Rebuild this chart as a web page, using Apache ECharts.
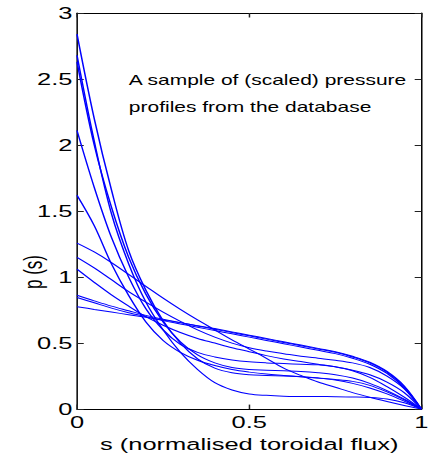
<!DOCTYPE html>
<html>
<head>
<meta charset="utf-8">
<script src="https://cdn.jsdelivr.net/npm/echarts@6/dist/echarts.min.js"></script>
<style>
  html, body { margin: 0; padding: 0; background: #fff; overflow: hidden; }
  /* the reference figure is stretched sideways, so draw narrow and widen */
  #chart { width: 289px; height: 458px; transform: scaleX(1.4983); transform-origin: 0 0; }
</style>
</head>
<body>
<div id="chart"></div>
<script>
// normalised toroidal flux
const S = [0, 0.05, 0.1, 0.15, 0.2, 0.25, 0.3, 0.35, 0.4, 0.45, 0.5, 0.55, 0.6, 0.65, 0.7, 0.75, 0.8, 0.85, 0.9, 0.95, 1];

// sampled pressure profiles p(s)
const pA = [2.84, 2.2, 1.66, 1.2, 0.9, 0.67, 0.5, 0.38, 0.31, 0.275, 0.26, 0.255, 0.25, 0.245, 0.235, 0.22, 0.195, 0.16, 0.115, 0.06, 0];
const pB = [2.68, 2.03, 1.48, 1.1, 0.81, 0.6, 0.43, 0.3, 0.2, 0.145, 0.115, 0.104, 0.098, 0.096, 0.095, 0.094, 0.092, 0.088, 0.076, 0.048, 0];
const pC = [2.63, 2.0, 1.53, 1.15, 0.87, 0.66, 0.51, 0.41, 0.35, 0.315, 0.3, 0.295, 0.29, 0.285, 0.275, 0.26, 0.235, 0.195, 0.14, 0.075, 0];
const pD = [2.11, 1.68, 1.3, 1.0, 0.76, 0.6, 0.49, 0.43, 0.395, 0.372, 0.358, 0.35, 0.345, 0.34, 0.335, 0.32, 0.29, 0.24, 0.17, 0.09, 0];
const pE = [1.62, 1.39, 1.1, 0.86, 0.66, 0.52, 0.43, 0.37, 0.33, 0.3, 0.28, 0.265, 0.255, 0.245, 0.235, 0.225, 0.21, 0.18, 0.13, 0.07, 0];
const pF = [1.257, 1.19, 1.11, 1.02, 0.93, 0.84, 0.755, 0.675, 0.6, 0.525, 0.455, 0.385, 0.31, 0.255, 0.205, 0.165, 0.125, 0.09, 0.058, 0.028, 0];
const pG = [1.15, 1.07, 0.98, 0.89, 0.81, 0.735, 0.665, 0.6, 0.545, 0.5, 0.465, 0.44, 0.42, 0.4, 0.385, 0.37, 0.35, 0.315, 0.25, 0.155, 0];
const pH = [1.06, 0.96, 0.865, 0.78, 0.7, 0.635, 0.58, 0.535, 0.5, 0.465, 0.435, 0.405, 0.38, 0.36, 0.34, 0.32, 0.295, 0.26, 0.205, 0.125, 0];
const pI = [0.862, 0.82, 0.78, 0.745, 0.71, 0.68, 0.655, 0.63, 0.605, 0.58, 0.555, 0.53, 0.505, 0.48, 0.455, 0.43, 0.395, 0.35, 0.28, 0.17, 0];
const pJ = [0.845, 0.805, 0.765, 0.73, 0.7, 0.67, 0.645, 0.62, 0.595, 0.57, 0.545, 0.52, 0.495, 0.47, 0.445, 0.42, 0.385, 0.34, 0.27, 0.16, 0];
const pK = [0.776, 0.755, 0.735, 0.715, 0.695, 0.675, 0.655, 0.632, 0.61, 0.585, 0.56, 0.535, 0.51, 0.485, 0.46, 0.435, 0.4, 0.355, 0.285, 0.175, 0];

const profiles = [pA, pB, pC, pD, pE, pF, pG, pH, pI, pJ, pK];

const FONT = "'Liberation Sans', Arial, Helvetica, sans-serif";

const chart = echarts.init(document.getElementById('chart'), null, { renderer: 'svg' });

const tick = { show: true, inside: true, length: 4.5, lineStyle: { color: '#222', width: 1 } };
const line = { show: true, onZero: false, lineStyle: { color: '#000', width: 1 } };

const option = {
    animation: false,
    backgroundColor: '#fff',
    grid: { left: 51.4, right: 6.7, top: 13, bottom: 40 },
    xAxis: [
        {
            type: 'value', min: 0, max: 1, interval: 0.5, position: 'bottom',
            axisLine: line, axisTick: tick, splitLine: { show: false },
            axisLabel: { margin: 5, fontSize: 17, color: '#000', fontFamily: FONT },
            name: 's (normalised toroidal flux)', nameLocation: 'middle', nameGap: 23,
            nameTextStyle: { fontSize: 17, color: '#000', fontFamily: FONT }
        },
        {
            type: 'value', min: 0, max: 1, interval: 0.5, position: 'top',
            axisLine: line, axisTick: tick, axisLabel: { show: false }, splitLine: { show: false }
        }
    ],
    yAxis: [
        {
            type: 'value', min: 0, max: 3, interval: 0.5, position: 'left',
            axisLine: line, axisTick: tick, splitLine: { show: false },
            axisLabel: { margin: 3, fontSize: 17, color: '#000', fontFamily: FONT }
        },
        {
            type: 'value', min: 0, max: 3, interval: 0.5, position: 'right',
            axisLine: line, axisTick: tick, axisLabel: { show: false }, splitLine: { show: false }
        }
    ],
    graphic: [
        {
            type: 'text', x: 22, y: 272, rotation: Math.PI / 2,
            style: { text: 'p (s)', font: '17px ' + FONT, fill: '#000', align: 'center', verticalAlign: 'middle' }
        },
        {
            type: 'text', x: 86, y: 80.5,
            style: { text: 'A sample of (scaled) pressure', font: '14px ' + FONT, fill: '#000', verticalAlign: 'middle' }
        },
        {
            type: 'text', x: 86, y: 107,
            style: { text: 'profiles from the database', font: '14px ' + FONT, fill: '#000', verticalAlign: 'middle' }
        }
    ],
    series: profiles.map(p => ({
        type: 'line',
        data: S.map((s, i) => [s, p[i]]),
        showSymbol: false,
        smooth: 0.35,
        lineStyle: { color: '#0000ff', width: 1 },
        silent: true
    }))
};

chart.setOption(option);
</script>
</body>
</html>
